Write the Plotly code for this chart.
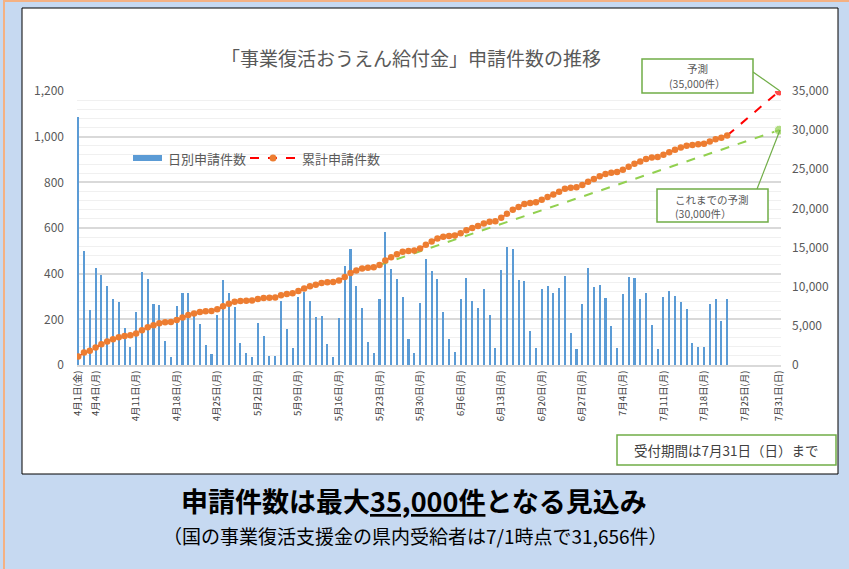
import pandas as pd
import plotly.graph_objects as go

# ---------------- data ----------------
dates = pd.date_range("2022-04-01", "2022-07-22", freq="D")

daily = [1085, 500, 240, 425, 393, 347, 288, 276, 164, 80,
         234, 406, 376, 269, 261, 106, 33, 259, 317, 317,
         217, 179, 86, 47, 218, 372, 317, 253, 97, 52,
         33, 185, 126, 40, 40, 281, 159, 74, 296, 319,
         279, 209, 213, 90, 37, 206, 432, 506, 347, 251,
         99, 53, 288, 581, 421, 378, 298, 116, 54, 271,
         463, 410, 375, 232, 116, 57, 291, 381, 282, 249,
         331, 219, 75, 418, 515, 507, 372, 369, 150, 75,
         331, 347, 316, 338, 390, 141, 72, 268, 426, 343,
         350, 293, 169, 75, 309, 387, 381, 288, 316, 175,
         69, 296, 325, 304, 278, 244, 97, 79, 79, 265,
         288, 193, 291]

cumulative = [1085, 1585, 1825, 2250, 2643, 2990, 3278, 3554, 3718, 3798,
              4032, 4438, 4814, 5083, 5344, 5450, 5483, 5742, 6059, 6376,
              6593, 6772, 6858, 6905, 7123, 7495, 7812, 8065, 8162, 8214,
              8247, 8432, 8558, 8598, 8638, 8919, 9078, 9152, 9448, 9767,
              10046, 10255, 10468, 10558, 10595, 10801, 11233, 11739, 12086, 12337,
              12436, 12489, 12777, 13358, 13779, 14157, 14455, 14571, 14625, 14896,
              15359, 15769, 16144, 16376, 16492, 16549, 16840, 17221, 17503, 17752,
              18083, 18302, 18377, 18795, 19310, 19817, 20189, 20558, 20708, 20783,
              21114, 21461, 21777, 22115, 22505, 22646, 22718, 22986, 23412, 23755,
              24105, 24398, 24567, 24642, 24951, 25338, 25719, 26007, 26323, 26498,
              26567, 26863, 27188, 27492, 27770, 28014, 28111, 28190, 28269, 28534,
              28822, 29015, 29306]

forecast_dates = ["2022-07-22", "2022-07-31"]
forecast_vals = [29306, 35000]
prev_forecast_dates = ["2022-05-23", "2022-07-31"]
prev_forecast_vals = [12777, 30000]

tick_dates = ["2022-04-01", "2022-04-04", "2022-04-11", "2022-04-18", "2022-04-25",
              "2022-05-02", "2022-05-09", "2022-05-16", "2022-05-23", "2022-05-30",
              "2022-06-06", "2022-06-13", "2022-06-20", "2022-06-27", "2022-07-04",
              "2022-07-11", "2022-07-18", "2022-07-25", "2022-07-31"]
tick_text = ["4月1日(金)", "4月4日(月)", "4月11日(月)", "4月18日(月)", "4月25日(月)",
             "5月2日(月)", "5月9日(月)", "5月16日(月)", "5月23日(月)", "5月30日(月)",
             "6月6日(月)", "6月13日(月)", "6月20日(月)", "6月27日(月)", "7月4日(月)",
             "7月11日(月)", "7月18日(月)", "7月25日(月)", "7月31日(日)"]

# ---------------- layout helpers ----------------
W, H = 849, 569
L, R, T, B = 77, 781, 91, 365
FONT = "Noto Sans CJK JP"
GRAY = "#595959"
GREEN = "#70AD47"


def px(x):
    return (x - L) / (R - L)


def py(y):
    return (B - y) / (B - T)


fig = go.Figure()

fig.add_trace(go.Bar(
    x=dates, y=daily, name="日別申請件数",
    marker=dict(color="#5B9BD5", line=dict(width=0)),
    width=0.36 * 86400000,
))

fig.add_trace(go.Scatter(
    x=prev_forecast_dates, y=prev_forecast_vals, yaxis="y2", mode="lines+markers",
    line=dict(color="#92D050", width=2, dash="dash"),
    marker=dict(color="#92D050", size=[0, 10]),
))

fig.add_trace(go.Scatter(
    x=forecast_dates, y=forecast_vals, yaxis="y2", mode="lines+markers",
    line=dict(color="#FF0000", width=2, dash="dash"),
    marker=dict(color="#FF0000", size=[0, 10]),
))

fig.add_trace(go.Scatter(
    x=dates, y=cumulative, yaxis="y2", name="累計申請件数", mode="lines+markers",
    line=dict(color="#FF0000", width=1.5, dash="dash"),
    marker=dict(color="#ED7D31", size=6.5),
))


def box(x0, x1, y0, y1):
    return dict(type="rect", xref="paper", yref="paper",
                x0=px(x0), x1=px(x1), y0=py(y1), y1=py(y0),
                fillcolor="white", line=dict(color=GREEN, width=1.5))


shapes = [
    # white chart box
    dict(type="rect", xref="paper", yref="paper",
         x0=px(22), x1=px(838), y0=py(474), y1=py(8),
         fillcolor="white", line=dict(color="black", width=1), layer="below"),
    # peach edge lines
    dict(type="line", xref="paper", yref="paper", x0=px(4), x1=px(4), y0=py(569), y1=py(0),
         line=dict(color="#F4B183", width=2), layer="below"),
    dict(type="line", xref="paper", yref="paper", x0=px(4), x1=px(849), y0=py(1), y1=py(1),
         line=dict(color="#F4B183", width=2), layer="below"),
    # connectors
    dict(type="line", xref="paper", yref="paper", x0=px(753), x1=px(780), y0=py(72), y1=py(91),
         line=dict(color=GREEN, width=1.2)),
    dict(type="line", xref="paper", yref="paper", x0=px(757), x1=px(780), y0=py(189), y1=py(130),
         line=dict(color=GREEN, width=1.2)),
    # callout boxes
    box(642, 753, 59, 93),
    box(657, 768, 189, 222),
    box(617, 836, 435, 465),
    # custom legend swatches
    dict(type="rect", xref="paper", yref="paper", x0=px(133), x1=px(162), y0=py(161), y1=py(155),
         fillcolor="#5B9BD5", line=dict(width=0)),
    dict(type="line", xref="paper", yref="paper", x0=px(250), x1=px(296), y0=py(158), y1=py(158),
         line=dict(color="#FF0000", width=2, dash="dash")),
    dict(type="circle", xref="paper", yref="paper", x0=px(269.5), x1=px(276.5), y0=py(161.5), y1=py(154.5),
         fillcolor="#ED7D31", line=dict(width=0)),
]

annotations = [
    dict(text="「事業復活おうえん給付金」申請件数の推移", x=px(411), y=py(58),
         font=dict(size=19, color=GRAY, family=FONT)),
    dict(text="予測", x=px(697), y=py(68), font=dict(size=10.5, color=GRAY, family=FONT)),
    dict(text="(35,000件）", x=px(697), y=py(83), font=dict(size=10.5, color=GRAY, family=FONT)),
    dict(text="これまでの予測", x=px(712), y=py(199), font=dict(size=10.5, color=GRAY, family=FONT)),
    dict(text="(30,000件）", x=px(703), y=py(213), font=dict(size=10.5, color=GRAY, family=FONT)),
    dict(text="受付期間は7月31日（日）まで", x=px(726), y=py(450),
         font=dict(size=13.5, color="#404040", family=FONT)),
    dict(text="日別申請件数", x=px(166), y=py(158), xanchor="left",
         font=dict(size=13, color=GRAY, family=FONT)),
    dict(text="累計申請件数", x=px(300), y=py(158), xanchor="left",
         font=dict(size=13, color=GRAY, family=FONT)),
    dict(text="<b>申請件数は最大<u>35,000件</u>となる見込み</b>", x=px(414), y=py(500),
         font=dict(size=27, color="black", family=FONT)),
    dict(text="（国の事業復活支援金の県内受給者は7/1時点で31,656件）", x=px(415), y=py(535),
         font=dict(size=19, color="black", family=FONT)),
]
for a in annotations:
    a.setdefault("xanchor", "center")
    a.update(xref="paper", yref="paper", yanchor="middle", showarrow=False)

fig.update_layout(
    width=W, height=H,
    margin=dict(l=L, r=W - R, t=T, b=H - B, pad=0),
    paper_bgcolor="#C6D9F1",
    plot_bgcolor="white",
    font=dict(family=FONT, color=GRAY, size=12),
    bargap=0,
    showlegend=False,
    hovermode=False,
    shapes=shapes,
    annotations=annotations,
    xaxis=dict(type="date", range=["2022-03-31 19:00", "2022-07-31 07:00"],
               tickmode="array", tickvals=tick_dates, ticktext=tick_text,
               tickangle=-90, tickfont=dict(size=9.5, color="#404040", family=FONT),
               showgrid=False, showline=True, linecolor="#D9D9D9", linewidth=1.5,
               ticks="", zeroline=False),
    yaxis=dict(range=[0, 1200], dtick=200, tickformat=",", tickfont=dict(size=12, color=GRAY),
               gridcolor="#D9D9D9", gridwidth=1.5, zeroline=False, ticks="",
               ticklabelstandoff=12,
               minor=dict(dtick=40, showgrid=True, gridcolor="#F0F0F0", gridwidth=1)),
    yaxis2=dict(range=[0, 35000], dtick=5000, tickformat=",", overlaying="y", side="right",
                tickfont=dict(size=12, color=GRAY), showgrid=False, zeroline=False,
                ticks="", ticklabelstandoff=10),
)

fig.write_html("out.html", config={"displayModeBar": False},
               post_script="document.body.style.margin='0';document.body.style.overflow='hidden';")
